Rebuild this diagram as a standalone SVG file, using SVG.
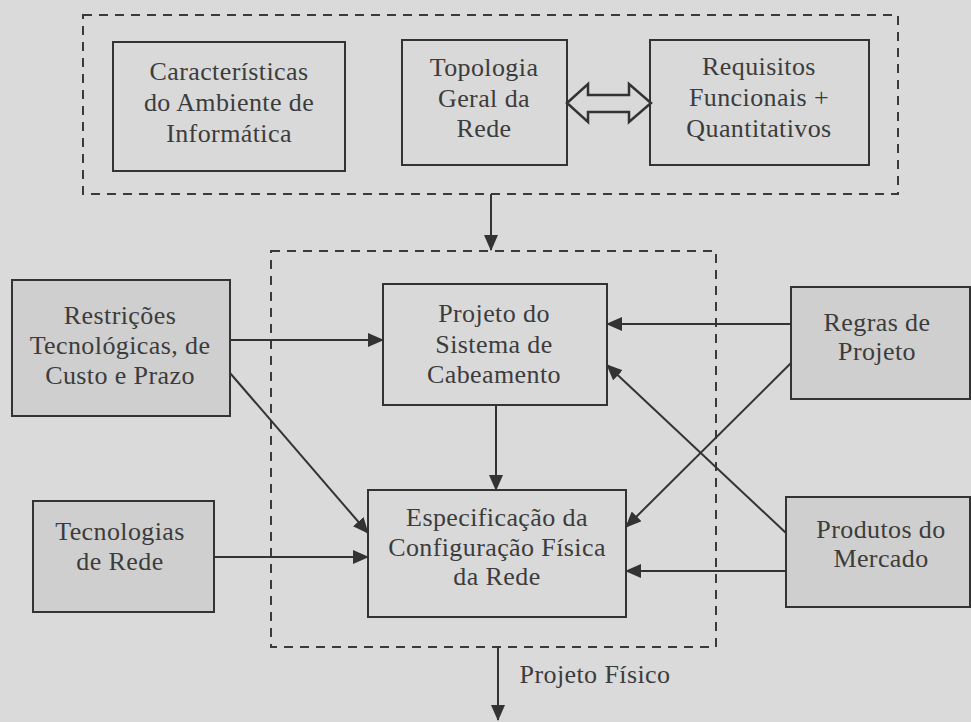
<svg xmlns="http://www.w3.org/2000/svg" width="971" height="722" viewBox="0 0 971 722">
  <defs>
    <marker id="arrow" viewBox="0 0 16 14" refX="15" refY="7" markerWidth="16" markerHeight="14" markerUnits="userSpaceOnUse" orient="auto">
      <path d="M0,0 L16,7 L0,14 Z" fill="#333"/>
    </marker>
    <style>
      .bg { fill: #dadada; }
      .box { fill: #d9d9d9; stroke: #333; stroke-width: 2; }
      .ext { fill: #cfcfcf; stroke: #333; stroke-width: 2; }
      .dash { fill: none; stroke: #3a3a3a; stroke-width: 2; stroke-dasharray: 9 7; }
      .arr { fill: none; stroke: #333; stroke-width: 2; marker-end: url(#arrow); }
      .lbl { font-size: 26px; letter-spacing: 0.4px; fill: #3c3c3c; text-anchor: middle; }
    </style>
  </defs>

  <rect class="bg" x="0" y="0" width="971" height="722"/>

  <!-- dashed grouping frames -->
  <g id="frames">
    <rect class="dash" x="83" y="15" width="815" height="179"/>
    <rect class="dash" x="271" y="251" width="445" height="396"/>
  </g>

  <g font-family="Liberation Serif, DejaVu Serif, serif">
    <!-- analysis stage -->
    <g id="caracteristicas">
      <rect class="box" x="113" y="42" width="232" height="129"/>
      <text class="lbl" x="229" y="80">Características</text>
      <text class="lbl" x="229" y="111">do Ambiente de</text>
      <text class="lbl" x="229" y="142">Informática</text>
    </g>
    <g id="topologia">
      <rect class="box" x="402" y="40" width="165" height="125"/>
      <text class="lbl" x="484" y="76">Topologia</text>
      <text class="lbl" x="484" y="107">Geral da</text>
      <text class="lbl" x="484" y="137">Rede</text>
    </g>
    <g id="requisitos">
      <rect class="box" x="650" y="40" width="219" height="125"/>
      <text class="lbl" x="759" y="75">Requisitos</text>
      <text class="lbl" x="759" y="106">Funcionais +</text>
      <text class="lbl" x="759" y="137">Quantitativos</text>
    </g>

    <!-- physical design stage -->
    <g id="projeto-cabeamento">
      <rect class="box" x="383" y="284" width="224" height="121"/>
      <text class="lbl" x="494" y="322">Projeto do</text>
      <text class="lbl" x="494" y="353">Sistema de</text>
      <text class="lbl" x="494" y="383">Cabeamento</text>
    </g>
    <g id="especificacao">
      <rect class="box" x="368" y="490" width="258" height="127"/>
      <text class="lbl" x="497" y="526">Especificação da</text>
      <text class="lbl" x="497" y="556">Configuração Física</text>
      <text class="lbl" x="497" y="585">da Rede</text>
    </g>

    <!-- external inputs -->
    <g id="restricoes">
      <rect class="ext" x="12" y="280" width="218" height="136"/>
      <text class="lbl" x="120" y="324">Restrições</text>
      <text class="lbl" x="120" y="354">Tecnológicas, de</text>
      <text class="lbl" x="120" y="384">Custo e Prazo</text>
    </g>
    <g id="tecnologias">
      <rect class="ext" x="33" y="501" width="181" height="111"/>
      <text class="lbl" x="120" y="540">Tecnologias</text>
      <text class="lbl" x="120" y="570">de Rede</text>
    </g>
    <g id="regras">
      <rect class="ext" x="791" y="287" width="179" height="112"/>
      <text class="lbl" x="877" y="331">Regras de</text>
      <text class="lbl" x="877" y="360">Projeto</text>
    </g>
    <g id="produtos">
      <rect class="ext" x="786" y="497" width="184" height="110"/>
      <text class="lbl" x="881" y="538">Produtos do</text>
      <text class="lbl" x="881" y="567">Mercado</text>
    </g>

    <!-- connectors -->
    <g id="connectors">
      <!-- two-way hollow arrow between Topologia and Requisitos -->
      <path d="M567,103 L588,84 L588,95 L629,95 L629,84 L651,103 L629,122 L629,112 L588,112 L588,122 Z" fill="#d9d9d9" stroke="#333" stroke-width="2.5"/>
      <path class="arr" d="M491,194 L491,250"/>
      <path class="arr" d="M230,340 L383,340"/>
      <path class="arr" d="M230,373 L368,533"/>
      <path class="arr" d="M214,557 L368,557"/>
      <path class="arr" d="M791,324 L607,324"/>
      <path class="arr" d="M791,363 L626,527"/>
      <path class="arr" d="M786,533 L607,365"/>
      <path class="arr" d="M786,571 L626,571"/>
      <path class="arr" d="M496,405 L496,490"/>
      <path class="arr" d="M498,647 L498,720"/>
      <text class="lbl" x="595" y="683">Projeto Físico</text>
    </g>
  </g>
</svg>
